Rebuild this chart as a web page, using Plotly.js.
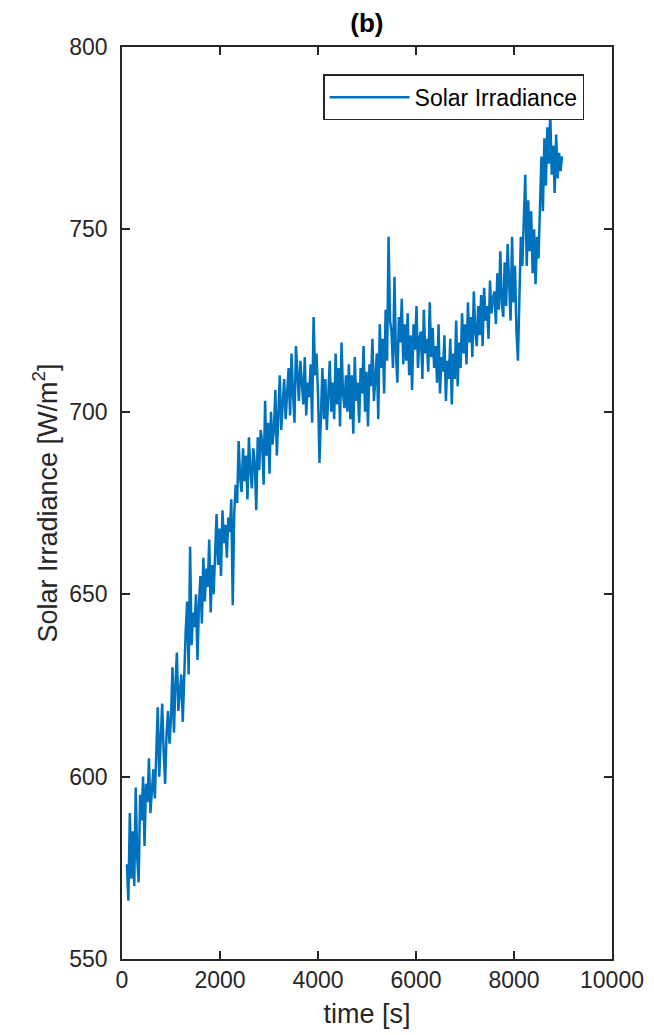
<!DOCTYPE html>
<html>
<head>
<meta charset="utf-8">
<script src="https://cdn.plot.ly/plotly-3.0.1.min.js"></script>
<style>html,body{margin:0;padding:0;background:#fff}#chart{width:654px;height:1035px}</style>
</head>
<body>
<div id="chart"></div>
<script>
const timeS = [
100,130,160,190,220,250,280,310,340,370,
400,430,460,490,520,550,580,610,640,670,
700,730,760,790,820,850,880,910,940,970,
1000,1030,1060,1090,1120,1150,1180,1210,1240,1270,
1300,1330,1360,1390,1420,1450,1480,1510,1540,1570,
1600,1630,1660,1690,1720,1750,1780,1810,1840,1870,
1900,1930,1960,1990,2020,2050,2080,2110,2140,2170,
2200,2230,2260,2290,2320,2350,2380,2410,2440,2470,
2500,2530,2560,2590,2620,2650,2680,2710,2740,2770,
2800,2830,2860,2890,2920,2950,2980,3010,3040,3070,
3100,3130,3160,3190,3220,3250,3280,3310,3340,3370,
3400,3430,3460,3490,3520,3550,3580,3610,3640,3670,
3700,3730,3760,3790,3820,3850,3880,3910,3940,3970,
4000,4030,4060,4090,4120,4150,4180,4210,4240,4270,
4300,4330,4360,4390,4420,4450,4480,4510,4540,4570,
4600,4630,4660,4690,4720,4750,4780,4810,4840,4870,
4900,4930,4960,4990,5020,5050,5080,5110,5140,5170,
5200,5230,5260,5290,5320,5350,5380,5410,5440,5470,
5500,5530,5560,5590,5620,5650,5680,5710,5740,5770,
5800,5830,5860,5890,5920,5950,5980,6010,6040,6070,
6100,6130,6160,6190,6220,6250,6280,6310,6340,6370,
6400,6430,6460,6490,6520,6550,6580,6610,6640,6670,
6700,6730,6760,6790,6820,6850,6880,6910,6940,6970,
7000,7030,7060,7090,7120,7150,7180,7210,7240,7270,
7300,7330,7360,7390,7420,7450,7480,7510,7540,7570,
7600,7630,7660,7690,7720,7750,7780,7810,7840,7870,
7900,7930,7960,7990,8020,8050,8080,8110,8140,8170,
8200,8230,8260,8290,8320,8350,8380,8410,8440,8470,
8500,8530,8560,8590,8620,8650,8680,8710,8740,8770,
8800,8830,8860,8890,8920,8950,8980
];
const irradiance = [
576,566,590,572,585,570,597,578,571,595,
588,600,581,598,593,605,590,597,602,594,
604,619,600,613,620,607,598,612,618,609,
616,630,612,625,634,618,622,628,615,630,
640,648,628,663,636,645,641,650,632,647,
655,642,660,648,657,652,665,645,658,650,
661,672,658,668,655,673,664,669,660,671,
667,676,647,672,680,675,692,682,678,690,
681,688,676,693,684,679,690,686,673,693,
684,695,692,680,703,688,697,683,700,691,
695,706,688,702,710,695,703,709,698,705,
712,699,716,705,697,718,708,703,714,709,
702,715,699,708,704,713,697,726,710,716,
705,686,700,712,698,709,695,704,714,700,
708,698,716,702,712,696,719,705,701,710,
700,713,698,710,694,715,703,708,697,712,
705,718,700,711,696,713,707,720,703,709,
716,698,724,712,720,705,728,714,748,725,
722,712,737,716,708,726,719,731,713,724,
714,727,710,721,706,724,717,729,712,720,
722,709,728,716,720,711,730,715,723,712,
718,708,724,705,715,711,721,703,714,709,
720,702,716,709,725,707,719,712,727,716,
724,713,730,719,726,715,733,722,718,729,
721,732,718,734,725,729,720,736,727,731,
733,724,738,728,744,730,726,741,729,746,
737,725,748,730,740,722,714,735,748,740,
752,765,740,758,744,755,738,750,735,748,
742,760,770,755,775,762,778,768,782,765,
773,760,776,764,771,766,770
];
const seriesName = 'Solar Irradiance';
const xTicks = [0,2000,4000,6000,8000,10000];
const yTicks = [550,600,650,700,750,800];

const fontFam = 'Liberation Sans, Arial, Helvetica, sans-serif';
const axisCommon = {
  showgrid: false, zeroline: false, showline: true, linecolor: '#262626', linewidth: 1.5,
  mirror: 'ticks', ticks: 'inside', ticklen: 8, tickwidth: 1.5, tickcolor: '#262626',
  tickfont: {family: fontFam, size: 23, color: '#262626'}
};
Plotly.newPlot('chart', [{
  x: timeS, y: irradiance, type: 'scatter', mode: 'lines', name: seriesName,
  line: {color: '#0072BD', width: 2.5}
}], {
  width: 654, height: 1035,
  margin: {l: 122, r: 42, t: 47, b: 76},
  paper_bgcolor: '#fff', plot_bgcolor: '#fff',
  title: {text: '<b>(b)</b>', font: {family: fontFam, size: 26, color: '#000'}, x: 0.561, xanchor: 'center', y: 0.978, yanchor: 'middle'},
  xaxis: Object.assign({}, axisCommon, {range: [0, 10000], tickvals: xTicks, ticktext: xTicks.map(String),
    title: {text: 'time [s]', font: {family: fontFam, size: 27, color: '#262626'}, standoff: 12}}),
  yaxis: Object.assign({}, axisCommon, {range: [550, 800], tickvals: yTicks, ticktext: yTicks.map(String),
    ticklabelstandoff: 8,
    title: {text: 'Solar Irradiance [W/m<sup>2</sup>]', font: {family: fontFam, size: 27, color: '#262626'}, standoff: 4}}),
  showlegend: true,
  legend: {x: 0.943, y: 0.970, xanchor: 'right', yanchor: 'top', bgcolor: '#fff', itemwidth: 80,
    bordercolor: '#262626', borderwidth: 1.5, font: {family: fontFam, size: 23, color: '#000'}}
}, {displayModeBar: false});
</script>
</body>
</html>
